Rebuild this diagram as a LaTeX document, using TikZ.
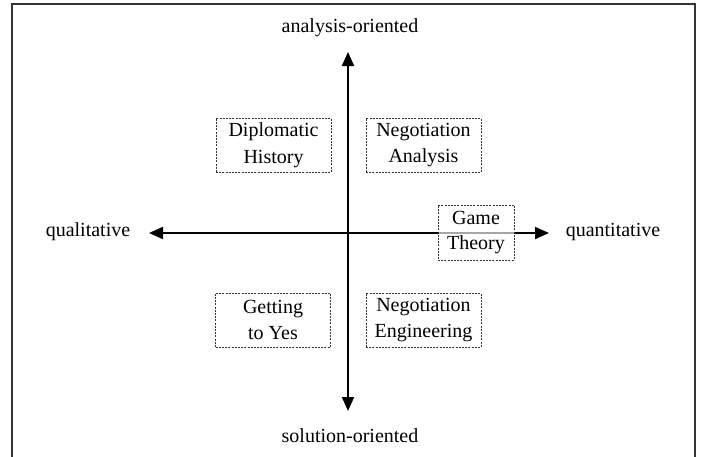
\documentclass[tikz,border=0pt]{standalone}
\usepackage{fontspec}
\setmainfont{Liberation Serif}
\usetikzlibrary{arrows.meta}
\begin{document}
\begin{tikzpicture}[x=1pt,y=-1pt,
  lbl/.style={font=\fontsize{20}{24}\selectfont, inner sep=0pt, anchor=center},
  quad/.style={draw=black!80, dash pattern=on 2pt off 1.2pt, line width=1pt,
    fill=white, fill opacity=0.65, text opacity=1,
    font=\fontsize{20}{26.5}\selectfont, align=center, inner sep=0pt,
    minimum width=115pt, minimum height=54pt},
  axis/.style={line width=2pt, {Triangle[length=14pt,width=12pt]}-{Triangle[length=14pt,width=12pt]}}]
  \useasboundingbox (0,0) rectangle (701,456);
  % outer frame (open at the bottom)
  \draw[black!80, line width=1.3pt] (12,470) -- (12,4) -- (695,4) -- (695,470);

  % axis end points
  \coordinate (top) at (348,52);
  \coordinate (bot) at (348,411);
  \coordinate (lft) at (149,233);
  \coordinate (rgt) at (549,233);
  \draw[axis] (bot) -- (top);
  \draw[axis] (lft) -- (rgt);

  % axis labels
  \node[lbl] (ana) at (350,28) {analysis-oriented};
  \node[lbl] (sol) at (350,436) {solution-oriented};
  \node[lbl] (qual) at (88,232) {qualitative};
  \node[lbl] (quant) at (613,232) {quantitative};

  % approaches placed in the four quadrants
  \node[quad] (dip) at (273.5,145) {Diplomatic\\History};
  \node[quad] (nan) at (423.5,145) {Negotiation\\Analysis};
  \node[quad, minimum width=76pt, minimum height=55pt, font=\fontsize{20}{25}\selectfont] (game) at (476,232.5) {Game\\Theory};
  \node[quad] (gty) at (273,320) {Getting\\to Yes};
  \node[quad] (neg) at (423.5,320) {Negotiation\\Engineering};
\end{tikzpicture}
\end{document}
